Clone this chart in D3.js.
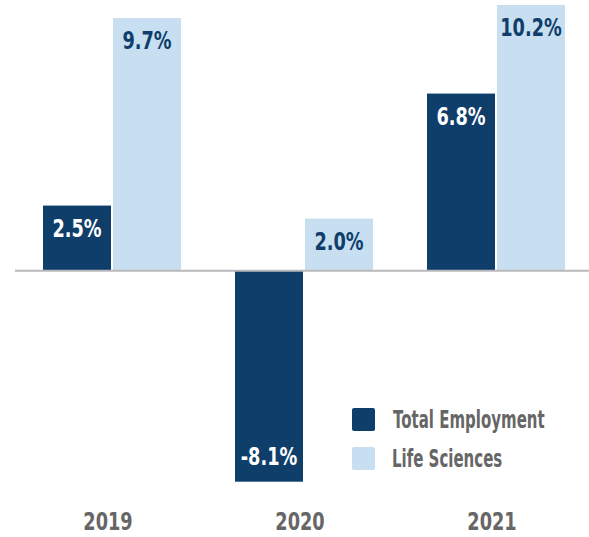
<!DOCTYPE html>
<html lang="en">
<head>
    <meta charset="UTF-8">
    <title>Employment growth</title>
    <style>
        body {
            margin: 0;
            background: #fff;
        }

        svg text {
            font-family: "DejaVu Sans", sans-serif;
            font-weight: bold;
        }
    </style>
</head>
<body>
    <div id="chart"></div>

    <script src="https://d3js.org/d3.v7.min.js"></script>
    <script>
        // data
        const years = ['2019', '2020', '2021'];
        const series = ['Total Employment', 'Life Sciences'];
        const totalEmployment = [2.5, -8.1, 6.8];
        const lifeSciences = [9.7, 2.0, 10.2];

        const colors = ['#0f3e6b', '#c8dff1'];
        const labelColors = ['#ffffff', '#0f3e6b'];

        const width = 589;
        const height = 537;

        const svg = d3.select('#chart')
            .append('svg')
            .attr('width', width)
            .attr('height', height);

        // x: year groups, then the two series inside each
        const x0 = d3.scaleBand()
            .domain(years)
            .range([43, 565])
            .paddingInner(0.28125)
            .paddingOuter(0);

        const x1 = d3.scaleBand()
            .domain(series)
            .range([0, x0.bandwidth()])
            .paddingInner(2 / 70);

        const y = d3.scaleLinear()
            .domain([-8.1, 10.2])
            .range([481.7, 5]);

        // no condensed font installed, so squeeze the text horizontally
        const squeeze = (x, yy, s) => `translate(${x},${yy}) scale(${s},1)`;

        const rows = [];
        years.forEach((yr, i) => {
            rows.push({ year: yr, s: series[0], k: 0, v: totalEmployment[i] });
            rows.push({ year: yr, s: series[1], k: 1, v: lifeSciences[i] });
        });

        const g = svg.append('g');

        g.selectAll('rect.bar')
            .data(rows)
            .join('rect')
            .attr('class', 'bar')
            .attr('x', d => x0(d.year) + x1(d.s))
            .attr('y', d => y(Math.max(0, d.v)))
            .attr('width', x1.bandwidth())
            .attr('height', d => Math.abs(y(d.v) - y(0)))
            .attr('fill', d => colors[d.k]);

        // value labels inside the bars
        g.selectAll('text.val')
            .data(rows)
            .join('text')
            .attr('class', 'val')
            .attr('transform', d => squeeze(
                x0(d.year) + x1(d.s) + x1.bandwidth() / 2,
                d.v >= 0 ? y(d.v) + 31 : y(d.v) - 17,
                0.71))
            .attr('text-anchor', 'middle')
            .attr('font-size', 25)
            .attr('fill', d => labelColors[d.k])
            .text(d => d.v.toFixed(1) + '%');

        // zero line
        svg.append('line')
            .attr('x1', 15)
            .attr('x2', width)
            .attr('y1', y(0))
            .attr('y2', y(0))
            .attr('stroke', '#b9b9bb')
            .attr('stroke-width', 2);

        // year labels
        svg.append('g')
            .selectAll('text')
            .data(years)
            .join('text')
            .attr('transform', d => squeeze(x0(d) + x0.bandwidth() / 2 - 4, 530, 0.71))
            .attr('text-anchor', 'middle')
            .attr('font-size', 25)
            .attr('fill', '#666666')
            .text(d => d);

        // legend
        const legend = svg.append('g')
            .attr('transform', 'translate(352, 408)');

        const item = legend.selectAll('g')
            .data(series)
            .join('g')
            .attr('transform', (d, i) => `translate(0, ${i * 39})`);

        item.append('rect')
            .attr('width', 23)
            .attr('height', 23)
            .attr('rx', 2)
            .attr('fill', (d, i) => colors[i]);

        item.append('text')
            .attr('transform', (d, i) => squeeze(i === 0 ? 41 : 40, 20, 0.6))
            .attr('font-size', 25)
            .attr('fill', '#666666')
            .text(d => d);
    </script>
</body>
</html>
